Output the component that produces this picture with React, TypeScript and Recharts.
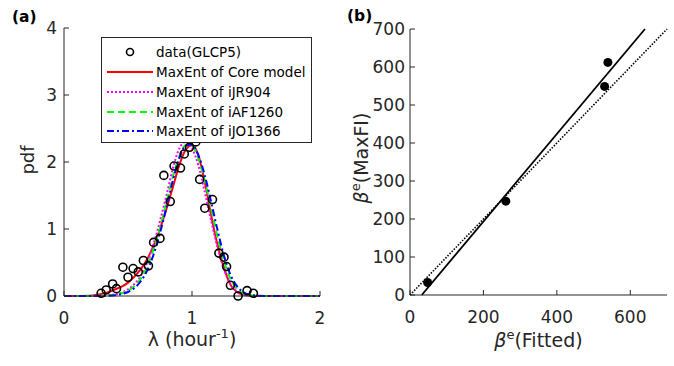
import React from 'react';
import { ComposedChart, Line, Scatter, XAxis, YAxis, Legend } from 'recharts';

// panel (a): lambda grid and MaxEnt pdf curves
const lambdaGrid = [0, 0.1, 0.2, 0.25, 0.3, 0.35, 0.4, 0.45, 0.5, 0.55, 0.6, 0.65, 0.7, 0.75, 0.8, 0.85,
  0.9, 0.95, 1.0, 1.05, 1.1, 1.15, 1.2, 1.25, 1.3, 1.35, 1.4, 1.45, 1.5, 1.6, 1.8, 2.0];
const corePdf = [0, 0, 0.005, 0.015, 0.035, 0.06, 0.1, 0.14, 0.2, 0.29, 0.4, 0.55, 0.75, 1.0, 1.3, 1.62,
  1.95, 2.18, 2.25, 2.1, 1.7, 1.2, 0.76, 0.42, 0.17, 0.06, 0.02, 0.005, 0, 0, 0, 0];
const jr904Pdf = [0, 0, 0, 0.002, 0.005, 0.01, 0.025, 0.05, 0.1, 0.18, 0.3, 0.5, 0.78, 1.12, 1.5, 1.9,
  2.2, 2.3, 2.2, 1.95, 1.55, 1.12, 0.72, 0.4, 0.18, 0.07, 0.02, 0.005, 0, 0, 0, 0];
const af1260Pdf = [0, 0, 0, 0.001, 0.003, 0.008, 0.02, 0.04, 0.08, 0.15, 0.26, 0.44, 0.7, 1.02, 1.4, 1.78,
  2.08, 2.25, 2.24, 2.05, 1.72, 1.3, 0.88, 0.52, 0.26, 0.11, 0.04, 0.012, 0.003, 0, 0, 0];
const jo1366Pdf = [0, 0, 0, 0.001, 0.002, 0.005, 0.012, 0.03, 0.06, 0.12, 0.22, 0.38, 0.62, 0.94, 1.32, 1.72,
  2.05, 2.24, 2.26, 2.1, 1.8, 1.4, 0.98, 0.6, 0.32, 0.15, 0.06, 0.02, 0.006, 0.001, 0, 0];

// measured growth rates (GLCP5)
const dataLambda = [0.29, 0.33, 0.38, 0.41, 0.46, 0.5, 0.54, 0.58, 0.62, 0.66, 0.7, 0.75, 0.78, 0.83, 0.86,
  0.91, 0.94, 0.98, 1.03, 1.06, 1.1, 1.16, 1.21, 1.25, 1.27, 1.3, 1.36, 1.43, 1.48];
const dataPdf = [0.04, 0.09, 0.18, 0.11, 0.43, 0.28, 0.41, 0.36, 0.53, 0.45, 0.8, 0.86, 1.8, 1.41, 1.94,
  1.91, 2.12, 2.22, 2.3, 1.74, 1.31, 1.44, 0.64, 0.58, 0.44, 0.16, 0, 0.08, 0.04];

// panel (b)
const fittedBeta = [48, 261, 530, 539];
const maxfiBeta = [33, 247, 549, 612];
const fitLineX = [32, 640];
const fitLineY = [0, 700];
const identityX = [0, 700];
const identityY = [0, 700];

const legendNames = ['data(GLCP5)', 'MaxEnt of Core model', 'MaxEnt of iJR904', 'MaxEnt of iAF1260', 'MaxEnt of iJO1366'];

const toPoints = (xs: number[], ys: number[]) => xs.map((x, i) => ({ x, y: ys[i] }));

const INK = '#262626';

const curves = [
  { name: legendNames[1], data: toPoints(lambdaGrid, corePdf), color: '#ff0000', dash: undefined },
  { name: legendNames[2], data: toPoints(lambdaGrid, jr904Pdf), color: '#ff00ff', dash: '2 2' },
  { name: legendNames[3], data: toPoints(lambdaGrid, af1260Pdf), color: '#00ff00', dash: '7 4' },
  { name: legendNames[4], data: toPoints(lambdaGrid, jo1366Pdf), color: '#0000ff', dash: '7 3 2 3' },
];

const OpenCircle = (props: any) => (
  <circle cx={props.cx} cy={props.cy} r={4} fill="none" stroke="#000" strokeWidth={1.6} />
);
const FilledDot = (props: any) => <circle cx={props.cx} cy={props.cy} r={4.5} fill="#000" />;

function LegendBox() {
  const rows = [15, 35, 55, 75, 94];
  return (
    <svg width={211} height={106} style={{ display: 'block' }}>
      <rect x={0.5} y={0.5} width={210} height={105} fill="#fff" stroke={INK} />
      <circle cx={29} cy={rows[0]} r={3.5} fill="none" stroke="#000" strokeWidth={1.6} />
      {curves.map((c, i) => (
        <line key={c.name} x1={6} x2={52} y1={rows[i + 1]} y2={rows[i + 1]}
          stroke={c.color} strokeWidth={2} strokeDasharray={c.dash} />
      ))}
      {legendNames.map((n, i) => (
        <text key={n} x={55} y={rows[i] + 5} fontSize={13.5} fill="#000">{n}</text>
      ))}
    </svg>
  );
}

const tickStyle = { fill: INK, fontSize: 17 };

export default function App() {
  return (
    <div style={{ position: 'absolute', left: 0, top: 0, width: 674, height: 366, background: '#fff',
      fontFamily: '"DejaVu Sans", Verdana, sans-serif' }}>
      <div style={{ position: 'absolute', left: 0, top: 0 }}>
        <ComposedChart width={340} height={366} margin={{ top: 28, right: 20, bottom: 30, left: 24 }}>
          <XAxis type="number" dataKey="x" domain={[0, 2]} ticks={[0, 1, 2]} height={40}
            stroke={INK} tick={tickStyle} tickSize={-5} tickMargin={21}
            label={(p: any) => (
              <text x={p.viewBox.x + p.viewBox.width / 2} y={346} textAnchor="middle" fontSize={19} fill={INK}>
                λ (hour<tspan dy={-8} fontSize={13}>-1</tspan><tspan dy={8}>)</tspan>
              </text>
            )} />
          <YAxis type="number" dataKey="y" domain={[0, 4]} ticks={[0, 1, 2, 3, 4]} width={40}
            stroke={INK} tick={tickStyle} tickSize={-5} tickMargin={12}
            label={() => (
              <g>
                <text x={34} y={160} transform="rotate(-90 34 160)" textAnchor="middle" fontSize={18} fill={INK}>pdf</text>
                <text x={12} y={22} fontSize={15.5} fontWeight="bold" fill="#000">(a)</text>
              </g>
            )} />
          <XAxis xAxisId="top" orientation="top" type="number" domain={[0, 2]} ticks={[0, 1, 2]} height={0}
            stroke={INK} tick={false} tickSize={-5} />
          <YAxis yAxisId="right" orientation="right" type="number" domain={[0, 4]} ticks={[0, 1, 2, 3, 4]} width={0}
            stroke={INK} tick={false} tickSize={-5} />
          <Scatter name={legendNames[0]} data={toPoints(dataLambda, dataPdf)} dataKey="y" shape={OpenCircle}
            isAnimationActive={false} />
          {curves.map((c) => (
            <Line key={c.name} name={c.name} data={c.data} dataKey="y" type="monotone" stroke={c.color}
              strokeWidth={2} strokeDasharray={c.dash} dot={false} activeDot={false} isAnimationActive={false} />
          ))}
          <Legend layout="vertical" align="center" verticalAlign="middle" content={() => <LegendBox />}
            wrapperStyle={{ position: 'absolute', left: 101, top: 37, width: 211, height: 106 }} />
        </ComposedChart>
      </div>
      <div style={{ position: 'absolute', left: 340, top: 0 }}>
        <ComposedChart width={334} height={366} margin={{ top: 29, right: 7, bottom: 30, left: 30 }}>
          <XAxis type="number" dataKey="x" domain={[0, 700]} ticks={[0, 200, 400, 600]} height={41}
            stroke={INK} tick={tickStyle} tickSize={-5} tickMargin={21}
            label={(p: any) => (
              <text x={p.viewBox.x + p.viewBox.width / 2} y={347} textAnchor="middle" fontSize={19} fill={INK}>
                <tspan fontStyle="italic">β</tspan><tspan dy={-8} fontSize={13}>e</tspan><tspan dy={8}>(Fitted)</tspan>
              </text>
            )} />
          <YAxis type="number" dataKey="y" domain={[0, 700]} ticks={[0, 100, 200, 300, 400, 500, 600, 700]} width={40}
            stroke={INK} tick={tickStyle} tickSize={-5} tickMargin={10}
            label={() => (
              <g>
                <text x={28} y={158} transform="rotate(-90 28 158)" textAnchor="middle" fontSize={19} fill={INK}>
                  <tspan fontStyle="italic">β</tspan><tspan dy={-8} fontSize={13}>e</tspan><tspan dy={8}>(MaxFI)</tspan>
                </text>
                <text x={7} y={21} fontSize={15.5} fontWeight="bold" fill="#000">(b)</text>
              </g>
            )} />
          <XAxis xAxisId="top" orientation="top" type="number" domain={[0, 700]} ticks={[0, 200, 400, 600]} height={0}
            stroke={INK} tick={false} tickSize={-5} />
          <YAxis yAxisId="right" orientation="right" type="number" domain={[0, 700]}
            ticks={[0, 100, 200, 300, 400, 500, 600, 700]} width={0} stroke={INK} tick={false} tickSize={-5} />
          <Line data={toPoints(identityX, identityY)} dataKey="y" type="linear" stroke="#000" strokeWidth={1.6}
            strokeDasharray="1.5 1.5" dot={false} activeDot={false} isAnimationActive={false} />
          <Line data={toPoints(fitLineX, fitLineY)} dataKey="y" type="linear" stroke="#000" strokeWidth={1.8}
            dot={false} activeDot={false} isAnimationActive={false} />
          <Scatter data={toPoints(fittedBeta, maxfiBeta)} dataKey="y" shape={FilledDot} isAnimationActive={false} />
        </ComposedChart>
      </div>
    </div>
  );
}
